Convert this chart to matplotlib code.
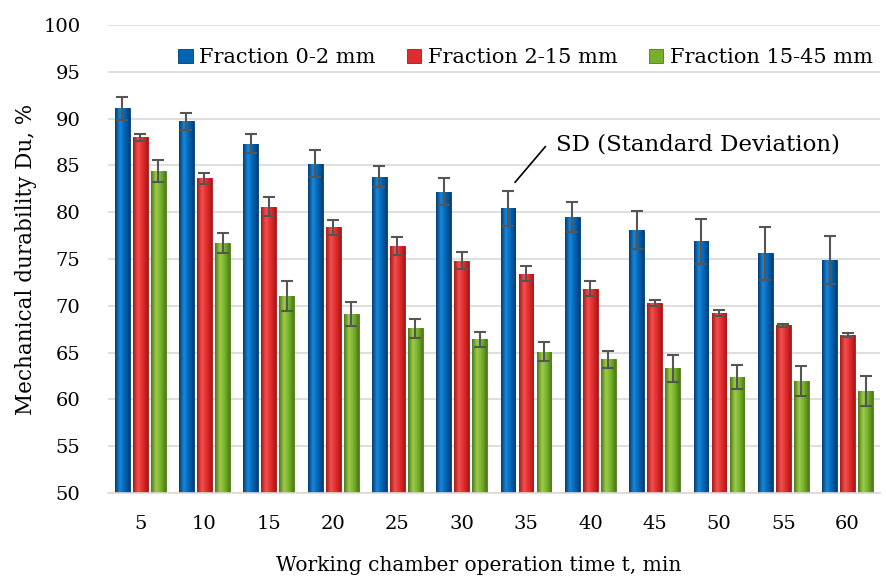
import matplotlib.pyplot as plt
import numpy as np
from matplotlib.colors import LinearSegmentedColormap

plt.rcParams["font.family"] = ["DejaVu Serif"]

################## Dados ##################

tempos = ["5", "10", "15", "20", "25", "30", "35", "40", "45", "50", "55", "60"]

fracao_0_2 = [91.1, 89.7, 87.3, 85.2, 83.8, 82.2, 80.4, 79.5, 78.1, 76.9, 75.6, 74.9]
fracao_2_15 = [88.0, 83.6, 80.6, 78.4, 76.4, 74.8, 73.4, 71.8, 70.3, 69.2, 67.9, 66.9]
fracao_15_45 = [84.4, 76.7, 71.0, 69.1, 67.6, 66.4, 65.1, 64.3, 63.3, 62.4, 62.0, 60.9]

sd_0_2 = [1.2, 0.9, 1.0, 1.4, 1.1, 1.4, 1.9, 1.6, 2.0, 2.4, 2.8, 2.6]
sd_2_15 = [0.4, 0.6, 1.0, 0.8, 1.0, 0.9, 0.8, 0.8, 0.3, 0.3, 0.2, 0.2]
sd_15_45 = [1.2, 1.1, 1.6, 1.3, 1.0, 0.8, 1.0, 0.9, 1.4, 1.3, 1.6, 1.6]

nomes = ["Fraction 0-2 mm", "Fraction 2-15 mm", "Fraction 15-45 mm"]

################## Grafico ##################

series = [
    (fracao_0_2, sd_0_2, ("#003e78", "#1a86d6", "#0064b4", "#003e78")),
    (fracao_2_15, sd_2_15, ("#a81818", "#f25050", "#e02c2c", "#a81818")),
    (fracao_15_45, sd_15_45, ("#4d7a16", "#9ccc4a", "#76b02c", "#4d7a16")),
]

fig = plt.figure(figsize=(8.87, 5.81), dpi=100)
ax = fig.add_axes([0.1218, 0.1515, 0.870, 0.8055])

x = np.arange(len(tempos))
largura = 0.23
deslocamentos = [-0.28, 0.0, 0.28]

gradiente = np.linspace(0, 1, 64).reshape(1, -1)

for (valores, sd, cores), desl, nome in zip(series, deslocamentos, nomes):
    cmap = LinearSegmentedColormap.from_list(nome, cores)
    barras = ax.bar(x + desl, np.array(valores) - 50, largura, bottom=50,
                    color=cores[2], edgecolor=cores[0], linewidth=0.6,
                    label=nome, zorder=2)
    for b in barras:
        x0, y0 = b.get_x(), b.get_y()
        w, h = b.get_width(), b.get_height()
        im = ax.imshow(gradiente, cmap=cmap, aspect="auto",
                       extent=[x0, x0 + w, y0, y0 + h], zorder=2.5)
        im.set_clip_path(b)
    ax.errorbar(x + desl, valores, yerr=sd, fmt="none", ecolor="#555555",
                elinewidth=1.5, capsize=4.5, capthick=1.5, zorder=4)

ax.set_xlim(-0.5, len(tempos) - 0.5)
ax.set_ylim(50, 100)
ax.set_yticks(np.arange(50, 101, 5))
ax.set_xticks(x)
ax.set_xticklabels(tempos)
ax.tick_params(axis="both", length=0, labelsize=14, colors="black")
ax.tick_params(axis="x", pad=16)
ax.tick_params(axis="y", pad=20)
ax.grid(axis="y", color="#d9d9d9", linewidth=1.2, zorder=0)
ax.set_axisbelow(True)
for lado in ["top", "right", "left"]:
    ax.spines[lado].set_visible(False)
ax.spines["bottom"].set_color("#d9d9d9")
ax.spines["bottom"].set_linewidth(1.2)

ax.set_xlabel("Working chamber operation time t, min", fontsize=14.5)
ax.set_ylabel("Mechanical durability Du, %", fontsize=15.5)
ax.xaxis.set_label_coords(0.48, -0.135)
ax.yaxis.set_label_coords(-0.092, 0.5)

ax.legend(loc="upper right", bbox_to_anchor=(1.015, 0.99), ncol=3, frameon=False,
          fontsize=15, handlelength=0.7, handleheight=0.7, handletextpad=0.3,
          columnspacing=1.5)

# linha indicando o desvio padrao
ax.plot([6.30, 5.83], [87.0, 83.2], color="black", linewidth=1.2, zorder=5)
ax.text(6.47, 87.2, "SD (Standard Deviation)", fontsize=16.5, va="center", ha="left")

plt.savefig("out.png", dpi=100)
plt.close()
